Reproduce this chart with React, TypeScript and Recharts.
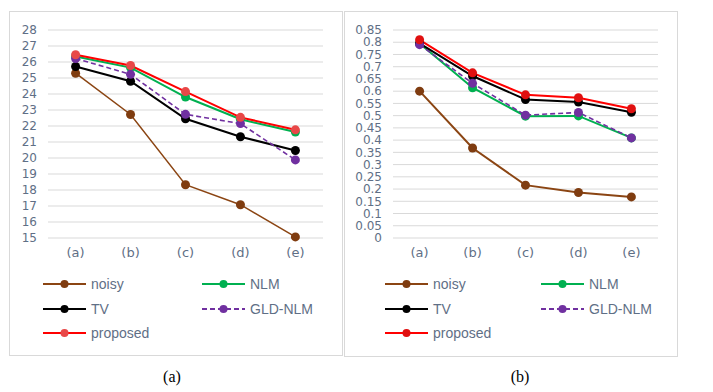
import React from 'react';
import { LineChart, Line, XAxis, YAxis, CartesianGrid, Legend } from 'recharts';

const categories = ['(a)', '(b)', '(c)', '(d)', '(e)'];
const seriesNames = ['noisy', 'NLM', 'TV', 'GLD-NLM', 'proposed'];

// PSNR, panel (a)
const psnrNoisy = [25.3, 22.72, 18.33, 17.08, 15.07];
const psnrNLM = [26.35, 25.65, 23.81, 22.42, 21.62];
const psnrTV = [25.72, 24.8, 22.45, 21.33, 20.47];
const psnrGLD = [26.22, 25.23, 22.73, 22.15, 19.88];
const psnrProposed = [26.45, 25.78, 24.15, 22.54, 21.76];
const psnrTicks = [15, 16, 17, 18, 19, 20, 21, 22, 23, 24, 25, 26, 27, 28];

// SSIM, panel (b)
const ssimNoisy = [0.6, 0.368, 0.216, 0.186, 0.168];
const ssimNLM = [0.795, 0.614, 0.498, 0.499, 0.409];
const ssimTV = [0.795, 0.662, 0.566, 0.556, 0.514];
const ssimGLD = [0.79, 0.632, 0.502, 0.513, 0.409];
const ssimProposed = [0.81, 0.675, 0.585, 0.573, 0.528];
const ssimTicks = [0, 0.05, 0.1, 0.15, 0.2, 0.25, 0.3, 0.35, 0.4, 0.45, 0.5, 0.55, 0.6, 0.65, 0.7, 0.75, 0.8, 0.85];

const buildData = (cols: number[][]) =>
    categories.map((c, i) => {
        const row: any = { name: c };
        seriesNames.forEach((s, k) => (row[s] = cols[k][i]));
        return row;
    });

const psnrData = buildData([psnrNoisy, psnrNLM, psnrTV, psnrGLD, psnrProposed]);
const ssimData = buildData([ssimNoisy, ssimNLM, ssimTV, ssimGLD, ssimProposed]);

const TEXT = '#5f6f86';
const FONT = '"Liberation Sans", Arial, sans-serif';
const TICK_FONT = '"DejaVu Sans", sans-serif';

type Style = { name: string; stroke: string; marker: string; width: number; dash?: string };

const fmt = (v: number) => String(Number(v.toFixed(2)));

const LegendBox = ({ styles, colW }: { styles: Style[]; colW: number }) => (
    <div
        style={{
            display: 'grid',
            gridTemplateColumns: `${colW}px auto`,
            gridAutoRows: '24.5px',
            fontFamily: FONT,
            fontSize: 14,
            color: TEXT,
        }}
    >
        {styles.map((s) => (
            <div key={s.name} style={{ display: 'flex', alignItems: 'center' }}>
                <svg width={43} height={12}>
                    <line x1={0} y1={6} x2={43} y2={6} stroke={s.stroke} strokeWidth={2} strokeDasharray={s.dash} />
                    <circle cx={21.5} cy={6} r={4} fill={s.marker} />
                </svg>
                <span style={{ marginLeft: 5 }}>{s.name}</span>
            </div>
        ))}
    </div>
);

const Panel = ({
    left,
    top,
    height,
    data,
    ticks,
    domain,
    yWidth,
    pad,
    styles,
    legendLeft,
    colW,
}: any) => (
    <div
        style={{
            position: 'absolute',
            left,
            top,
            width: 334,
            height,
            border: '1px solid #d9d9d9',
            boxSizing: 'border-box',
            background: '#fff',
        }}
    >
        <LineChart
            width={332}
            height={height - 2}
            data={data}
            margin={{ top: 18, right: 19, left: 0, bottom: height - 2 - 226 - 30 }}
        >
            <CartesianGrid vertical={false} stroke="#d9d9d9" strokeWidth={1} />
            <XAxis
                dataKey="name"
                axisLine={false}
                tickLine={false}
                tickSize={0}
                tickMargin={10}
                height={30}
                padding={{ left: pad, right: pad }}
                tick={{ fill: TEXT, fontSize: 13, fontFamily: TICK_FONT }}
                interval={0}
            />
            <YAxis
                domain={domain}
                ticks={ticks}
                width={yWidth}
                axisLine={false}
                tickLine={false}
                tickSize={0}
                tickMargin={11}
                interval={0}
                tickFormatter={fmt}
                tick={{ fill: TEXT, fontSize: 12, fontFamily: TICK_FONT }}
            />
            <Legend
                layout="horizontal"
                verticalAlign="middle"
                align="center"
                wrapperStyle={{ top: 260, left: legendLeft, width: 300 }}
                content={() => <LegendBox styles={styles} colW={colW} />}
            />
            {styles.map((s: Style) => (
                <Line
                    key={s.name}
                    type="linear"
                    dataKey={s.name}
                    stroke={s.stroke}
                    strokeWidth={s.width}
                    strokeDasharray={s.dash}
                    dot={{ r: 4.5, fill: s.marker, stroke: s.marker, strokeWidth: 0 }}
                    activeDot={false}
                    isAnimationActive={false}
                />
            ))}
        </LineChart>
    </div>
);

const leftStyles: Style[] = [
    { name: 'noisy', stroke: '#8b4513', marker: '#7f3c10', width: 1.5 },
    { name: 'NLM', stroke: '#00b050', marker: '#00b050', width: 2 },
    { name: 'TV', stroke: '#000000', marker: '#000000', width: 2 },
    { name: 'GLD-NLM', stroke: '#7030a0', marker: '#7030a0', width: 1.6, dash: '5 3' },
    { name: 'proposed', stroke: '#ff0000', marker: '#e84848', width: 2 },
];

const rightStyles: Style[] = [
    { name: 'noisy', stroke: '#8b4513', marker: '#7f3c10', width: 2 },
    { name: 'NLM', stroke: '#00b050', marker: '#00b050', width: 2 },
    { name: 'TV', stroke: '#000000', marker: '#000000', width: 2 },
    { name: 'GLD-NLM', stroke: '#7030a0', marker: '#7030a0', width: 1.6, dash: '5 3' },
    { name: 'proposed', stroke: '#ff0000', marker: '#e01010', width: 2 },
];

export default function App() {
    return (
        <div style={{ position: 'absolute', left: 0, top: 0, width: 713, height: 392, background: '#fff' }}>
            <Panel
                left={9}
                top={11}
                height={345}
                data={psnrData}
                ticks={psnrTicks}
                domain={[15, 28]}
                yWidth={38}
                pad={27.6}
                styles={leftStyles}
                legendLeft={33}
                colW={159}
            />
            <Panel
                left={344}
                top={11}
                height={346}
                data={ssimData}
                ticks={ssimTicks}
                domain={[0, 0.85]}
                yWidth={48}
                pad={26.6}
                styles={rightStyles}
                legendLeft={40}
                colW={156}
            />
            <div
                style={{
                    position: 'absolute',
                    top: 368,
                    left: 0,
                    width: 344,
                    textAlign: 'center',
                    fontFamily: '"Liberation Serif", "Times New Roman", serif',
                    fontSize: 16,
                }}
            >
                (a)
            </div>
            <div
                style={{
                    position: 'absolute',
                    top: 368,
                    left: 344,
                    width: 352,
                    textAlign: 'center',
                    fontFamily: '"Liberation Serif", "Times New Roman", serif',
                    fontSize: 16,
                }}
            >
                (b)
            </div>
        </div>
    );
}
